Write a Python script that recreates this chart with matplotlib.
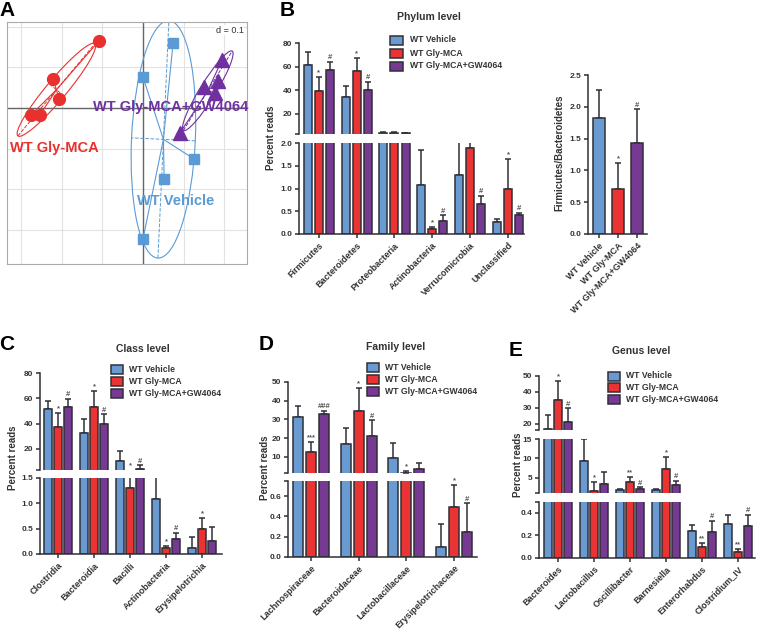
import numpy as np
import matplotlib
matplotlib.use('Agg')
import matplotlib.pyplot as plt
from matplotlib.patches import Rectangle, Ellipse

plt.rcParams['font.family'] = ['Liberation Sans', 'DejaVu Sans']
plt.rcParams['font.weight'] = 'bold'

## Data
# panel A: ordination scores
red_x = [-0.108, -0.221, -0.206, -0.275, -0.253]
red_y = [0.165, 0.071, 0.022, -0.017, -0.017]
blue_x = [0.074, 0.0, 0.125, 0.052, 0.0]
blue_y = [0.160, 0.076, -0.125, -0.174, -0.322]
purple_x = [0.194, 0.184, 0.150, 0.177, 0.091]
purple_y = [0.118, 0.066, 0.052, 0.037, -0.061]

series_names = ['WT Vehicle', 'WT Gly-MCA', 'WT Gly-MCA+GW4064']

# panel B: phylum level
phylum = ['Firmicutes', 'Bacteroidetes', 'Proteobacteria', 'Actinobacteria',
          'Verrucomicrobia', 'Unclassified']
phy_veh = [61, 34, 4.0, 1.08, 1.30, 0.27]
phy_veh_err = [11, 10, 0.3, 0.77, 1.0, 0.05]
phy_gly = [39, 56, 4.0, 0.10, 1.88, 0.99]
phy_gly_err = [12, 11, 0.3, 0.05, 0.6, 0.65]
phy_gw = [57, 40, 3.8, 0.29, 0.66, 0.41]
phy_gw_err = [7, 7, 0.3, 0.12, 0.18, 0.05]
phy_marks = [(0, 1, '*'), (0, 2, '#'), (1, 1, '*'), (1, 2, '#'), (3, 1, '*'), (3, 2, '#'),
             (4, 2, '#'), (5, 1, '*'), (5, 2, '#')]

# panel B right: ratio
fb_ratio = [1.82, 0.70, 1.43]
fb_err = [0.44, 0.41, 0.53]
fb_marks = [(1, '*'), (2, '#')]

# panel C: class level
classes = ['Clostridia', 'Bacteroidia', 'Bacilli', 'Actinobacteria', 'Erysipelotrichia']
cls_veh = [51.6, 32.7, 10.4, 1.08, 0.11]
cls_veh_err = [6.6, 11.2, 7.6, 0.8, 0.22]
cls_gly = [37.3, 53.5, 1.30, 0.11, 0.50]
cls_gly_err = [11.4, 12.7, 1.6, 0.05, 0.21]
cls_gw = [53.5, 39.4, 4.0, 0.29, 0.25]
cls_gw_err = [5.9, 8.0, 2.8, 0.12, 0.28]
cls_marks = [(0, 1, '*'), (0, 2, '#'), (1, 1, '*'), (1, 2, '#'), (2, 1, '*'), (2, 2, '#'),
             (3, 1, '*'), (3, 2, '#'), (4, 1, '*')]

# panel D: family level
families = ['Lachnospiraceae', 'Bacteroidaceae', 'Lactobacillaceae', 'Erysipelotrichaceae']
fam_veh = [31.4, 16.9, 9.6, 0.10]
fam_veh_err = [5.6, 8.7, 7.7, 0.22]
fam_gly = [12.8, 34.3, 1.6, 0.49]
fam_gly_err = [5.3, 12.5, 0.9, 0.22]
fam_gw = [32.7, 21.2, 3.5, 0.24]
fam_gw_err = [1.9, 8.3, 3.3, 0.29]
fam_marks = [(0, 1, '***'), (0, 2, '###'), (1, 1, '*'), (1, 2, '#'), (2, 1, '*'),
             (3, 1, '*'), (3, 2, '#')]

# panel E: genus level
genera = ['Bacteroides', 'Lactobacillus', 'Oscillibacter', 'Barnesiella',
          'Enterorhabdus', 'Clostridium_IV']
gen_veh = [16.9, 9.3, 1.9, 1.8, 0.24, 0.30]
gen_veh_err = [8.5, 5.7, 0.2, 0.2, 0.05, 0.08]
gen_gly = [34.6, 1.7, 3.9, 7.2, 0.10, 0.054]
gen_gly_err = [12.5, 2.3, 1.2, 3.2, 0.03, 0.02]
gen_gw = [20.8, 3.3, 2.0, 3.1, 0.23, 0.28]
gen_gw_err = [8.8, 3.3, 0.5, 1.2, 0.10, 0.10]
gen_marks = [(0, 1, '*'), (0, 2, '#'), (1, 1, '*'), (2, 1, '**'), (2, 2, '#'),
             (3, 1, '*'), (3, 2, '#'), (4, 1, '**'), (4, 2, '#'), (5, 1, '**'), (5, 2, '#')]

cols = ['#6A9AD2', '#EA3433', '#763A93']
edge = '#2F2F37'
txtc = '#333333'

W, H = 760, 637
fig = plt.figure(figsize=(W / 100, H / 100), dpi=100)


def px_ax(l, t, r, b):
    return fig.add_axes([l / W, 1 - b / H, (r - l) / W, (b - t) / H])


def style_ax(ax, bottom):
    for s in ['top', 'right']:
        ax.spines[s].set_visible(False)
    ax.spines['left'].set_linewidth(1.1)
    ax.spines['left'].set_color(edge)
    if bottom:
        ax.spines['bottom'].set_linewidth(1.1)
        ax.spines['bottom'].set_color(edge)
    else:
        ax.spines['bottom'].set_visible(False)
    ax.tick_params(axis='y', length=3, width=1.1, color=edge, labelsize=6, pad=2,
                   labelcolor=txtc)
    ax.set_facecolor('none')


def bar_panel(x0, x1, segs, c0, step, bw, off, cats, means, errs, marks):
    n = len(cats)
    xs = np.arange(n)
    axes = []
    for k, (lo, hi, top, bot, ticks, labels) in enumerate(segs):
        ax = px_ax(x0, top, x1, bot)
        last = k == len(segs) - 1
        for j in range(3):
            xx = xs + (j - 1) * off / step
            m = np.array(means[j], float)
            e = np.array(errs[j], float)
            ax.bar(xx, m, width=bw / step, color=cols[j], edgecolor=edge,
                   linewidth=1.1, zorder=2)
            # errorbars whose tip falls below this segment stay hidden here
            keep = (m + e) >= lo
            if keep.any():
                ax.errorbar(xx[keep], m[keep], yerr=[np.zeros(keep.sum()), e[keep]],
                            fmt='none', ecolor=edge, elinewidth=1.1, capsize=2,
                            capthick=1.1, zorder=1)
        ax.set_xlim((x0 - c0) / step, (x1 - c0) / step)
        ax.set_ylim(lo, hi)
        tk = list(ticks)
        lb = list(labels)
        if lo not in tk:
            tk.append(lo)
            lb.append('')
        if hi not in tk:
            tk.append(hi)
            lb.append('')
        ax.set_yticks(tk)
        ax.set_yticklabels(lb)
        style_ax(ax, last)
        if last:
            ax.set_xticks(xs)
            ax.set_xticklabels(cats, rotation=45, ha='right', rotation_mode='anchor',
                               fontsize=6.5, color=txtc)
            ax.tick_params(axis='x', length=3, width=1.1, color=edge, pad=2)
        else:
            ax.set_xticks([])
        axes.append(ax)
    # significance marks
    for gi, sj, sym in marks:
        ytop = means[sj][gi] + errs[sj][gi]
        xx = gi + (sj - 1) * off / step
        target = None
        for k, (lo, hi, *_r) in enumerate(segs):
            if lo <= ytop <= hi:
                target = (axes[k], ytop)
                break
        if target is None:
            for k in range(len(segs) - 1, -1, -1):
                if segs[k][0] > ytop:
                    target = (axes[k], segs[k][0])
                    break
        ax, yv = target
        ax.annotate(sym, (xx, yv), xytext=(0, 0.5), textcoords='offset points',
                    ha='center', va='bottom', fontsize=5.5, color='#555555',
                    annotation_clip=False)
    return axes


def legend_at(x, y0, dy, pw=12, ph=9, gap=6):
    for j in range(3):
        yc = y0 + j * dy
        fig.add_artist(Rectangle((x / W, 1 - (yc + ph / 2) / H), pw / W, ph / H,
                                 transform=fig.transFigure, fc=cols[j], ec=edge, lw=1.1))
        fig.text((x + pw + gap) / W, 1 - yc / H, series_names[j], fontsize=6.2,
                 va='center', ha='left', color=txtc)


def ftext(x, y, s, **kw):
    fig.text(x / W, 1 - y / H, s, **kw)


## Panel A
axA = px_ax(7, 22, 247, 264)
axA.set_xlim(-0.334, 0.2555)
axA.set_ylim(-0.3833, 0.2113)
for v in np.arange(-0.3, 0.31, 0.1):
    axA.axvline(v, color='#E2E2E2', lw=0.8, zorder=0)
    axA.axhline(v, color='#E2E2E2', lw=0.8, zorder=0)
axA.axhline(0, color='#666666', lw=1.0, zorder=1)
axA.axvline(0, color='#666666', lw=1.0, zorder=1)
axA.set_xticks([])
axA.set_yticks([])
for s in axA.spines.values():
    s.set_color('#AAAAAA')
    s.set_linewidth(0.8)

groupsA = [(red_x, red_y, '#E8312F', 'o', 8.5),
           (blue_x, blue_y, '#5B9BD5', 's', 7.5),
           (purple_x, purple_y, '#7030A0', '^', 9.5)]
for gx, gy, c, mk, ms in groupsA:
    gx = np.array(gx)
    gy = np.array(gy)
    mx, my = gx.mean(), gy.mean()
    cov = np.cov(gx, gy)
    vals, vecs = np.linalg.eigh(cov)
    semi = 1.5 * np.sqrt(vals)
    major = vecs[:, 1]
    ang = np.degrees(np.arctan2(major[1], major[0]))
    axA.add_patch(Ellipse((mx, my), 2 * semi[1], 2 * semi[0], angle=ang, fill=False,
                          ec=c, lw=0.8, zorder=2))
    for i in range(2):
        v = vecs[:, i] * semi[i]
        axA.plot([mx - v[0], mx + v[0]], [my - v[1], my + v[1]], color=c, lw=0.7,
                 ls='--', zorder=2)
    for px_, py_ in zip(gx, gy):
        axA.plot([mx, px_], [my, py_], color=c, lw=0.8, zorder=2)
    axA.plot(gx, gy, mk, color=c, ms=ms, mec=c, zorder=3)

axA.text(-0.3268, -0.0983, 'WT Gly-MCA', color='#E8312F', fontsize=10.5, va='center',
         ha='left', zorder=4)
axA.text(-0.0147, -0.2285, 'WT Vehicle', color='#5B9BD5', fontsize=10.5, va='center',
         ha='left', zorder=4)
axA.text(-0.1229, 0.0025, 'WT Gly-MCA+GW4064', color='#7030A0', fontsize=10.5,
         va='center', ha='left', zorder=4)
axA.text(0.985, 0.985, 'd = 0.1', transform=axA.transAxes, ha='right', va='top',
         fontsize=6.5, fontweight='normal', color='#333333',
         bbox=dict(fc='white', ec='none', pad=0.5), zorder=5)

## Panel B left
segsB = [(3, 80, 43, 134, [20, 40, 60, 80], ['20', '40', '60', '80']),
         (0, 2, 143, 234, [0, 0.5, 1, 1.5, 2], ['0.0', '0.5', '1.0', '1.5', '2.0'])]
bar_panel(299, 524, segsB, 318.5, 38, 8, 11, phylum,
          [phy_veh, phy_gly, phy_gw], [phy_veh_err, phy_gly_err, phy_gw_err], phy_marks)
ftext(429, 17, 'Phylum level', fontsize=7.5, ha='center', va='center', color=txtc)
legend_at(390, 40, 13, pw=13, gap=7)
ftext(271, 138, 'Percent reads', rotation=90, fontsize=7, ha='center', va='center',
      color=txtc)

## Panel B right
axR = px_ax(588, 75, 647, 234)
xr = np.arange(3)
axR.bar(xr, fb_ratio, width=12.5 / 19, color=cols, edgecolor=edge, linewidth=1.1, zorder=2)
axR.errorbar(xr, fb_ratio, yerr=[np.zeros(3), fb_err], fmt='none', ecolor=edge,
             elinewidth=1.1, capsize=2.5, capthick=1.1, zorder=1)
for i, sym in fb_marks:
    axR.annotate(sym, (i, fb_ratio[i] + fb_err[i]), xytext=(0, 0.5),
                 textcoords='offset points', ha='center', va='bottom', fontsize=5.5,
                 color='#555555', annotation_clip=False)
axR.set_xlim((588 - 599) / 19, (647 - 599) / 19)
axR.set_ylim(0, 2.5)
axR.set_yticks([0, 0.5, 1.0, 1.5, 2.0, 2.5])
axR.set_yticklabels(['0.0', '0.5', '1.0', '1.5', '2.0', '2.5'])
style_ax(axR, True)
axR.set_xticks(xr)
axR.set_xticklabels(series_names, rotation=45, ha='right', rotation_mode='anchor',
                    fontsize=6.5, color=txtc)
axR.tick_params(axis='x', length=3, width=1.1, color=edge, pad=2)
ftext(559, 153, 'Firmicutes/Bacteroidetes', rotation=90, fontsize=7, ha='center',
      va='center', color=txtc)

## Panel C
segsC = [(3, 80, 373.3, 470, [20, 40, 60, 80], ['20', '40', '60', '80']),
         (0, 1.5, 477.7, 554, [0, 0.5, 1.0, 1.5], ['0.0', '0.5', '1.0', '1.5'])]
bar_panel(40, 222, segsC, 58, 36, 8, 10, classes,
          [cls_veh, cls_gly, cls_gw], [cls_veh_err, cls_gly_err, cls_gw_err], cls_marks)
ftext(143, 349, 'Class level', fontsize=7.5, ha='center', va='center', color=txtc)
legend_at(111, 369, 12)
ftext(13, 458, 'Percent reads', rotation=90, fontsize=7, ha='center', va='center',
      color=txtc)

## Panel D
segsD = [(1.5, 50, 381.7, 473, [10, 20, 30, 40, 50], ['10', '20', '30', '40', '50']),
         (0, 0.75, 481, 556.7, [0, 0.2, 0.4, 0.6], ['0.0', '0.2', '0.4', '0.6'])]
bar_panel(288, 477, segsD, 311, 47.7, 10, 13, families,
          [fam_veh, fam_gly, fam_gw], [fam_veh_err, fam_gly_err, fam_gw_err], fam_marks)
ftext(396, 347, 'Family level', fontsize=7.5, ha='center', va='center', color=txtc)
legend_at(367, 367, 12)
ftext(265, 468, 'Percent reads', rotation=90, fontsize=7, ha='center', va='center',
      color=txtc)

## Panel E
segsE = [(16, 50, 376, 430, [20, 30, 40, 50], ['20', '30', '40', '50']),
         (1, 15, 439, 493.3, [5, 10, 15], ['5', '10', '15']),
         (0, 0.5, 501.7, 557.7, [0, 0.2, 0.4], ['0.0', '0.2', '0.4'])]
bar_panel(539, 755, segsE, 558, 36, 8, 10, genera,
          [gen_veh, gen_gly, gen_gw], [gen_veh_err, gen_gly_err, gen_gw_err], gen_marks)
ftext(641, 351, 'Genus level', fontsize=7.5, ha='center', va='center', color=txtc)
legend_at(608, 376, 11.5)
ftext(518, 465, 'Percent reads', rotation=90, fontsize=7, ha='center', va='center',
      color=txtc)

## panel letters
for lx, ly, s in [(7, 11, 'A'), (287, 11, 'B'), (7, 344, 'C'), (266, 344, 'D'), (516, 350, 'E')]:
    ftext(lx, ly, s, fontsize=15, ha='center', va='center', color='black')

fig.savefig('out.png', dpi=100)
